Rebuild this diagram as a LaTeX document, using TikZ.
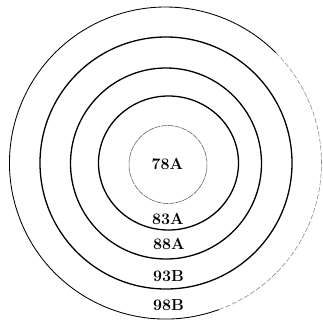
\documentclass[tikz,border=0pt]{standalone}
\begin{document}
\begin{tikzpicture}[x=1pt,y=-1pt,
  ring/.style={line width=1.3pt,black},
  innerring/.style={line width=0.55pt,black!65,dash pattern=on 6pt off 0.8pt},
  outerring/.style={line width=0.85pt,black},
  fadering/.style={line width=0.6pt,black!45,dash pattern=on 5pt off 2pt},
  lbl/.style={font=\fontsize{16}{16}\selectfont\bfseries,inner sep=0pt}]
\useasboundingbox (0,0) rectangle (323,322);
\draw[innerring] (168,164.5) circle[radius=39];
\draw[ring] (168.5,163) circle[x radius=70,y radius=67];
\draw[ring] (166,163.5) circle[radius=95.5];
\draw[ring] (166,163) circle[radius=126];
\draw[outerring] (165.5,163) ++(70:156) arc[start angle=70,end angle=315,radius=156];
\draw[fadering] (165.5,163) ++(-45:156) arc[start angle=-45,end angle=70,radius=156];
\node[lbl] (l78) at (167.5,164) {78A};
\node[lbl] (l83) at (168,218.5) {83A};
\node[lbl] (l88) at (169,244) {88A};
\node[lbl] (l93) at (168.5,276) {93B};
\node[lbl] (l98) at (168.5,305.5) {98B};
\end{tikzpicture}
\end{document}
